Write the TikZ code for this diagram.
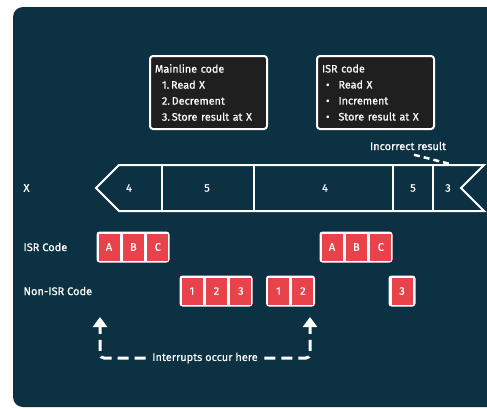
\documentclass[tikz,border=0pt]{standalone}
\usepackage{fontspec}
\setmainfont{Fira Sans}[FakeBold=0.6]
\usetikzlibrary{arrows.meta,positioning}
\definecolor{panelTeal}{HTML}{0B3142}
\definecolor{codeBlack}{HTML}{1F1F1F}
\definecolor{slotRed}{HTML}{E8434B}
\tikzset{
  >={Triangle[length=10pt,width=14pt]},
  codebox/.style={rectangle,rounded corners=3pt,draw=white,line width=2pt,fill=codeBlack,text=white,align=left,anchor=north west,
    text width=107pt,minimum height=73pt,inner xsep=5pt,font=\fontsize{10.8}{16}\selectfont},
  slotgroup/.style={rectangle,rounded corners=3pt,fill=white,minimum height=31pt,inner sep=0pt},
  slot/.style={rectangle,fill=slotRed,text=white,minimum width=21pt,minimum height=27pt,inner sep=0pt,font=\fontsize{11}{12}\selectfont},
  rowlabel/.style={text=white,anchor=west,font=\fontsize{11}{12}\selectfont},
  cellnum/.style={text=white,font=\fontsize{11}{12}\selectfont},
  ribbon/.style={draw=white,line width=2pt},
  dashline/.style={draw=white,line width=3pt,dash pattern=on 11pt off 6pt,rounded corners=4pt},
}

\begin{document}
\begin{tikzpicture}[x=1pt,y=-1pt]
  \useasboundingbox (0,0) rectangle (487,408);
  \fill[white] (0,0) rectangle (487,408);
  \fill[panelTeal,rounded corners=10pt] (13,7) rectangle (510,407);

  % code boxes
  \node[codebox] (mainline) at (149,55) {Mainline code\\
    \hspace*{7pt}1.\,Read X\\
    \hspace*{7pt}2.\,Decrement\\
    \hspace*{7pt}3.\,Store result at X};
  \node[codebox] (isrcode) at (316,55) {ISR code\\
    \hspace*{4pt}\textbullet\hspace*{9pt}Read X\\
    \hspace*{4pt}\textbullet\hspace*{9pt}Increment\\
    \hspace*{4pt}\textbullet\hspace*{9pt}Store result at X};

  % value of X over time
  \node[rowlabel] (xlabel) at (20,188) {X};
  \draw[ribbon] (119,165) -- (96,188) -- (119,211) -- (484,211) -- (461,188) -- (484,165) -- cycle;
  \foreach \xd in {162,254,393,433}
    \draw[ribbon] (\xd,165) -- (\xd,211);
  \node[cellnum] (xval1) at (129,188) {4};
  \node[cellnum] (xval2) at (207,188) {5};
  \node[cellnum] (xval3) at (325,188) {4};
  \node[cellnum] (xval4) at (413,188) {5};
  \node[cellnum] (xval5) at (448,188) {3};

  \node[cellnum] (incres) at (408,146) {Incorrect result};
  \coordinate (incend) at (450,164);
  \draw[white,line width=2.5pt,dash pattern=on 6pt off 4pt] ([xshift=6pt,yshift=-1pt]incres.south) -- (incend);

  % ISR row
  \node[rowlabel] (isrlabel) at (20,247) {ISR Code};
  \node[slotgroup,minimum width=73pt] (isrgrp1) at (133,247) {};
  \node[slot,anchor=west] (isrA1) at ([xshift=2pt]isrgrp1.west) {A};
  \node[slot,right=3pt of isrA1] (isrB1) {B};
  \node[slot,right=3pt of isrB1] (isrC1) {C};
  \node[slotgroup,minimum width=73pt] (isrgrp2) at (356,247) {};
  \node[slot,anchor=west] (isrA2) at ([xshift=2pt]isrgrp2.west) {A};
  \node[slot,right=3pt of isrA2] (isrB2) {B};
  \node[slot,right=3pt of isrB2] (isrC2) {C};

  % non-ISR row
  \node[rowlabel] (mainlabel) at (20,291) {Non-ISR Code};
  \node[slotgroup,minimum width=73pt] (maingrp1) at (216,291) {};
  \node[slot,anchor=west] (mainS1) at ([xshift=2pt]maingrp1.west) {1};
  \node[slot,right=3pt of mainS1] (mainS2) {2};
  \node[slot,right=3pt of mainS2] (mainS3) {3};
  \node[slotgroup,minimum width=49pt] (maingrp2) at (290.5,291) {};
  \node[slot,anchor=west] (mainT1) at ([xshift=2pt]maingrp2.west) {1};
  \node[slot,right=3pt of mainT1] (mainT2) {2};
  \node[slotgroup,minimum width=27pt] (maingrp3) at (402,291) {};
  \node[slot] (mainU3) at (maingrp3) {3};

  % interrupt markers
  \node[cellnum] (intlabel) at (205,358) {Interrupts occur here};
  \coordinate (intcorner1) at (100,358);
  \coordinate (intcorner2) at (310,358);
  \coordinate (inttip1) at (100,317);
  \coordinate (inttip2) at (310,317);
  \draw[dashline,->] ([xshift=-3pt]intlabel.west) -- (intcorner1) -- (inttip1);
  \draw[dashline,->] ([xshift=3pt]intlabel.east) -- (intcorner2) -- (inttip2);
\end{tikzpicture}
\end{document}
